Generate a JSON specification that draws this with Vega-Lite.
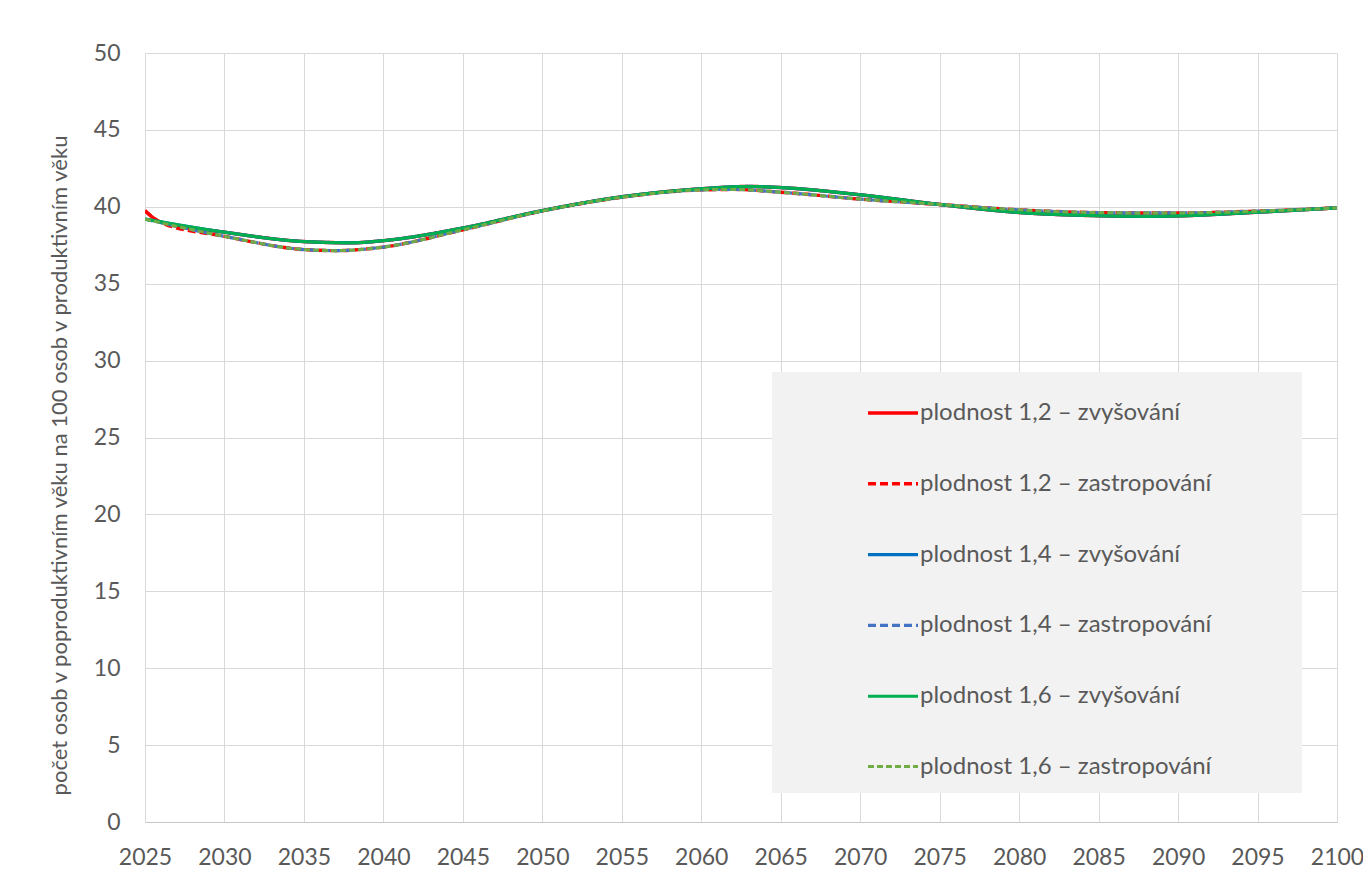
{
  "$schema": "https://vega.github.io/schema/vega-lite/v6.json",
  "width": 1192,
  "height": 769,
  "autosize": {"type": "none"},
  "padding": {"left": 145, "top": 53, "right": 26, "bottom": 64},
  "background": "#FFFFFF",
  "config": {
    "view": {"stroke": null},
    "font": "Lato",
    "legend": {
      "title": " ",
      "titleOrient": "right",
      "titlePadding": 77,
      "orient": "none",
      "legendX": 627,
      "legendY": 319,
      "fillColor": "#F2F2F2",
      "padding": 14,
      "symbolType": "stroke",
      "symbolSize": 2500,
      "symbolOffset": 80,
      "labelOffset": 0,
      "rowPadding": 31.8,
      "labelFont": "Lato",
      "labelFontSize": 24,
      "labelColor": "#595959",
      "labelLimit": 500
    }
  },
  "data": {
    "values": [
      {"serie": "plodnost 1,2 – zvyšování", "rok": 2025, "hodnota": 39.75},
      {"serie": "plodnost 1,2 – zvyšování", "rok": 2026, "hodnota": 39.0},
      {"serie": "plodnost 1,2 – zvyšování", "rok": 2030, "hodnota": 38.35},
      {"serie": "plodnost 1,2 – zvyšování", "rok": 2035, "hodnota": 37.74},
      {"serie": "plodnost 1,2 – zvyšování", "rok": 2038, "hodnota": 37.66},
      {"serie": "plodnost 1,2 – zvyšování", "rok": 2040, "hodnota": 37.8},
      {"serie": "plodnost 1,2 – zvyšování", "rok": 2045, "hodnota": 38.62},
      {"serie": "plodnost 1,2 – zvyšování", "rok": 2050, "hodnota": 39.75},
      {"serie": "plodnost 1,2 – zvyšování", "rok": 2055, "hodnota": 40.65},
      {"serie": "plodnost 1,2 – zvyšování", "rok": 2060, "hodnota": 41.17},
      {"serie": "plodnost 1,2 – zvyšování", "rok": 2063, "hodnota": 41.32},
      {"serie": "plodnost 1,2 – zvyšování", "rok": 2065, "hodnota": 41.25},
      {"serie": "plodnost 1,2 – zvyšování", "rok": 2070, "hodnota": 40.78},
      {"serie": "plodnost 1,2 – zvyšování", "rok": 2075, "hodnota": 40.15},
      {"serie": "plodnost 1,2 – zvyšování", "rok": 2080, "hodnota": 39.63},
      {"serie": "plodnost 1,2 – zvyšování", "rok": 2085, "hodnota": 39.42},
      {"serie": "plodnost 1,2 – zvyšování", "rok": 2088, "hodnota": 39.38},
      {"serie": "plodnost 1,2 – zvyšování", "rok": 2090, "hodnota": 39.41},
      {"serie": "plodnost 1,2 – zvyšování", "rok": 2095, "hodnota": 39.65},
      {"serie": "plodnost 1,2 – zvyšování", "rok": 2100, "hodnota": 39.93},

      {"serie": "plodnost 1,2 – zastropování", "rok": 2025, "hodnota": 39.75},
      {"serie": "plodnost 1,2 – zastropování", "rok": 2026, "hodnota": 38.98},
      {"serie": "plodnost 1,2 – zastropování", "rok": 2030, "hodnota": 38.08},
      {"serie": "plodnost 1,2 – zastropování", "rok": 2035, "hodnota": 37.22},
      {"serie": "plodnost 1,2 – zastropování", "rok": 2037, "hodnota": 37.15},
      {"serie": "plodnost 1,2 – zastropování", "rok": 2040, "hodnota": 37.38},
      {"serie": "plodnost 1,2 – zastropování", "rok": 2045, "hodnota": 38.5},
      {"serie": "plodnost 1,2 – zastropování", "rok": 2050, "hodnota": 39.73},
      {"serie": "plodnost 1,2 – zastropování", "rok": 2055, "hodnota": 40.62},
      {"serie": "plodnost 1,2 – zastropování", "rok": 2060, "hodnota": 41.1},
      {"serie": "plodnost 1,2 – zastropování", "rok": 2062, "hodnota": 41.13},
      {"serie": "plodnost 1,2 – zastropování", "rok": 2065, "hodnota": 40.95},
      {"serie": "plodnost 1,2 – zastropování", "rok": 2070, "hodnota": 40.5},
      {"serie": "plodnost 1,2 – zastropování", "rok": 2075, "hodnota": 40.15},
      {"serie": "plodnost 1,2 – zastropování", "rok": 2080, "hodnota": 39.8},
      {"serie": "plodnost 1,2 – zastropování", "rok": 2085, "hodnota": 39.62},
      {"serie": "plodnost 1,2 – zastropování", "rok": 2088, "hodnota": 39.6},
      {"serie": "plodnost 1,2 – zastropování", "rok": 2090, "hodnota": 39.6},
      {"serie": "plodnost 1,2 – zastropování", "rok": 2095, "hodnota": 39.72},
      {"serie": "plodnost 1,2 – zastropování", "rok": 2100, "hodnota": 39.93},

      {"serie": "plodnost 1,4 – zvyšování", "rok": 2025, "hodnota": 39.2},
      {"serie": "plodnost 1,4 – zvyšování", "rok": 2030, "hodnota": 38.35},
      {"serie": "plodnost 1,4 – zvyšování", "rok": 2035, "hodnota": 37.74},
      {"serie": "plodnost 1,4 – zvyšování", "rok": 2038, "hodnota": 37.66},
      {"serie": "plodnost 1,4 – zvyšování", "rok": 2040, "hodnota": 37.8},
      {"serie": "plodnost 1,4 – zvyšování", "rok": 2045, "hodnota": 38.62},
      {"serie": "plodnost 1,4 – zvyšování", "rok": 2050, "hodnota": 39.75},
      {"serie": "plodnost 1,4 – zvyšování", "rok": 2055, "hodnota": 40.65},
      {"serie": "plodnost 1,4 – zvyšování", "rok": 2060, "hodnota": 41.17},
      {"serie": "plodnost 1,4 – zvyšování", "rok": 2063, "hodnota": 41.32},
      {"serie": "plodnost 1,4 – zvyšování", "rok": 2065, "hodnota": 41.25},
      {"serie": "plodnost 1,4 – zvyšování", "rok": 2070, "hodnota": 40.78},
      {"serie": "plodnost 1,4 – zvyšování", "rok": 2075, "hodnota": 40.15},
      {"serie": "plodnost 1,4 – zvyšování", "rok": 2080, "hodnota": 39.63},
      {"serie": "plodnost 1,4 – zvyšování", "rok": 2085, "hodnota": 39.42},
      {"serie": "plodnost 1,4 – zvyšování", "rok": 2088, "hodnota": 39.38},
      {"serie": "plodnost 1,4 – zvyšování", "rok": 2090, "hodnota": 39.41},
      {"serie": "plodnost 1,4 – zvyšování", "rok": 2095, "hodnota": 39.65},
      {"serie": "plodnost 1,4 – zvyšování", "rok": 2100, "hodnota": 39.93},

      {"serie": "plodnost 1,4 – zastropování", "rok": 2025, "hodnota": 39.2},
      {"serie": "plodnost 1,4 – zastropování", "rok": 2030, "hodnota": 38.08},
      {"serie": "plodnost 1,4 – zastropování", "rok": 2035, "hodnota": 37.22},
      {"serie": "plodnost 1,4 – zastropování", "rok": 2037, "hodnota": 37.15},
      {"serie": "plodnost 1,4 – zastropování", "rok": 2040, "hodnota": 37.38},
      {"serie": "plodnost 1,4 – zastropování", "rok": 2045, "hodnota": 38.5},
      {"serie": "plodnost 1,4 – zastropování", "rok": 2050, "hodnota": 39.73},
      {"serie": "plodnost 1,4 – zastropování", "rok": 2055, "hodnota": 40.62},
      {"serie": "plodnost 1,4 – zastropování", "rok": 2060, "hodnota": 41.1},
      {"serie": "plodnost 1,4 – zastropování", "rok": 2062, "hodnota": 41.13},
      {"serie": "plodnost 1,4 – zastropování", "rok": 2065, "hodnota": 40.95},
      {"serie": "plodnost 1,4 – zastropování", "rok": 2070, "hodnota": 40.5},
      {"serie": "plodnost 1,4 – zastropování", "rok": 2075, "hodnota": 40.15},
      {"serie": "plodnost 1,4 – zastropování", "rok": 2080, "hodnota": 39.8},
      {"serie": "plodnost 1,4 – zastropování", "rok": 2085, "hodnota": 39.62},
      {"serie": "plodnost 1,4 – zastropování", "rok": 2088, "hodnota": 39.6},
      {"serie": "plodnost 1,4 – zastropování", "rok": 2090, "hodnota": 39.6},
      {"serie": "plodnost 1,4 – zastropování", "rok": 2095, "hodnota": 39.72},
      {"serie": "plodnost 1,4 – zastropování", "rok": 2100, "hodnota": 39.93},

      {"serie": "plodnost 1,6 – zvyšování", "rok": 2025, "hodnota": 39.2},
      {"serie": "plodnost 1,6 – zvyšování", "rok": 2030, "hodnota": 38.35},
      {"serie": "plodnost 1,6 – zvyšování", "rok": 2035, "hodnota": 37.74},
      {"serie": "plodnost 1,6 – zvyšování", "rok": 2038, "hodnota": 37.66},
      {"serie": "plodnost 1,6 – zvyšování", "rok": 2040, "hodnota": 37.8},
      {"serie": "plodnost 1,6 – zvyšování", "rok": 2045, "hodnota": 38.62},
      {"serie": "plodnost 1,6 – zvyšování", "rok": 2050, "hodnota": 39.75},
      {"serie": "plodnost 1,6 – zvyšování", "rok": 2055, "hodnota": 40.65},
      {"serie": "plodnost 1,6 – zvyšování", "rok": 2060, "hodnota": 41.17},
      {"serie": "plodnost 1,6 – zvyšování", "rok": 2063, "hodnota": 41.32},
      {"serie": "plodnost 1,6 – zvyšování", "rok": 2065, "hodnota": 41.25},
      {"serie": "plodnost 1,6 – zvyšování", "rok": 2070, "hodnota": 40.78},
      {"serie": "plodnost 1,6 – zvyšování", "rok": 2075, "hodnota": 40.15},
      {"serie": "plodnost 1,6 – zvyšování", "rok": 2080, "hodnota": 39.63},
      {"serie": "plodnost 1,6 – zvyšování", "rok": 2085, "hodnota": 39.42},
      {"serie": "plodnost 1,6 – zvyšování", "rok": 2088, "hodnota": 39.38},
      {"serie": "plodnost 1,6 – zvyšování", "rok": 2090, "hodnota": 39.41},
      {"serie": "plodnost 1,6 – zvyšování", "rok": 2095, "hodnota": 39.65},
      {"serie": "plodnost 1,6 – zvyšování", "rok": 2100, "hodnota": 39.93},

      {"serie": "plodnost 1,6 – zastropování", "rok": 2025, "hodnota": 39.2},
      {"serie": "plodnost 1,6 – zastropování", "rok": 2030, "hodnota": 38.08},
      {"serie": "plodnost 1,6 – zastropování", "rok": 2035, "hodnota": 37.22},
      {"serie": "plodnost 1,6 – zastropování", "rok": 2037, "hodnota": 37.15},
      {"serie": "plodnost 1,6 – zastropování", "rok": 2040, "hodnota": 37.38},
      {"serie": "plodnost 1,6 – zastropování", "rok": 2045, "hodnota": 38.5},
      {"serie": "plodnost 1,6 – zastropování", "rok": 2050, "hodnota": 39.73},
      {"serie": "plodnost 1,6 – zastropování", "rok": 2055, "hodnota": 40.62},
      {"serie": "plodnost 1,6 – zastropování", "rok": 2060, "hodnota": 41.1},
      {"serie": "plodnost 1,6 – zastropování", "rok": 2062, "hodnota": 41.13},
      {"serie": "plodnost 1,6 – zastropování", "rok": 2065, "hodnota": 40.95},
      {"serie": "plodnost 1,6 – zastropování", "rok": 2070, "hodnota": 40.5},
      {"serie": "plodnost 1,6 – zastropování", "rok": 2075, "hodnota": 40.15},
      {"serie": "plodnost 1,6 – zastropování", "rok": 2080, "hodnota": 39.8},
      {"serie": "plodnost 1,6 – zastropování", "rok": 2085, "hodnota": 39.62},
      {"serie": "plodnost 1,6 – zastropování", "rok": 2088, "hodnota": 39.6},
      {"serie": "plodnost 1,6 – zastropování", "rok": 2090, "hodnota": 39.6},
      {"serie": "plodnost 1,6 – zastropování", "rok": 2095, "hodnota": 39.72},
      {"serie": "plodnost 1,6 – zastropování", "rok": 2100, "hodnota": 39.93}
    ]
  },
  "mark": {"type": "line", "interpolate": "monotone", "clip": true},
  "encoding": {
    "x": {
      "field": "rok",
      "type": "quantitative",
      "scale": {"domain": [2025, 2100], "nice": false, "zero": false},
      "axis": {
        "title": null,
        "values": [2025, 2030, 2035, 2040, 2045, 2050, 2055, 2060, 2065, 2070, 2075, 2080, 2085, 2090, 2095, 2100],
        "format": "d",
        "labelFont": "Lato",
        "labelFontSize": 23,
        "labelColor": "#595959",
        "labelPadding": 24,
        "labelFlush": false,
        "labelOverlap": false,
        "ticks": false,
        "domain": true,
        "domainColor": "#C8C8C8",
        "domainWidth": 1,
        "grid": true,
        "gridColor": "#D9D9D9",
        "gridWidth": 1
      }
    },
    "y": {
      "field": "hodnota",
      "type": "quantitative",
      "scale": {"domain": [0, 50], "nice": false, "zero": true},
      "axis": {
        "title": "počet osob v poproduktivním věku na 100 osob v produktivním věku",
        "titleFont": "Lato",
        "titleFontSize": 22,
        "titleFontWeight": "normal",
        "titleColor": "#595959",
        "titleAngle": -90,
        "titleAlign": "center",
        "titleBaseline": "middle",
        "titleX": -86,
        "titleY": 412,
        "values": [0, 5, 10, 15, 20, 25, 30, 35, 40, 45, 50],
        "labelFont": "Lato",
        "labelFontSize": 23,
        "labelColor": "#595959",
        "labelPadding": 25,
        "labelFlush": false,
        "labelOverlap": false,
        "ticks": false,
        "domain": false,
        "grid": true,
        "gridColor": "#D9D9D9",
        "gridWidth": 1
      }
    },
    "color": {
      "field": "serie",
      "type": "nominal",
      "sort": null,
      "scale": {
        "domain": ["plodnost 1,2 – zvyšování", "plodnost 1,2 – zastropování", "plodnost 1,4 – zvyšování", "plodnost 1,4 – zastropování", "plodnost 1,6 – zvyšování", "plodnost 1,6 – zastropování"],
        "range": ["#FF0000", "#FF0000", "#0070C0", "#4472C4", "#00B050", "#70AD47"]
      },
      "legend": {"title": " "}
    },
    "strokeDash": {
      "field": "serie",
      "type": "nominal",
      "sort": null,
      "scale": {
        "domain": ["plodnost 1,2 – zvyšování", "plodnost 1,2 – zastropování", "plodnost 1,4 – zvyšování", "plodnost 1,4 – zastropování", "plodnost 1,6 – zvyšování", "plodnost 1,6 – zastropování"],
        "range": [[1, 0], [8, 4], [1, 0], [8, 4], [1, 0], [6, 3]]
      },
      "legend": {"title": " "}
    },
    "strokeWidth": {
      "field": "serie",
      "type": "nominal",
      "sort": null,
      "scale": {
        "domain": ["plodnost 1,2 – zvyšování", "plodnost 1,2 – zastropování", "plodnost 1,4 – zvyšování", "plodnost 1,4 – zastropování", "plodnost 1,6 – zvyšování", "plodnost 1,6 – zastropování"],
        "range": [3.5, 3, 3.5, 3, 4, 2.5]
      },
      "legend": {"title": " "}
    }
  }
}
